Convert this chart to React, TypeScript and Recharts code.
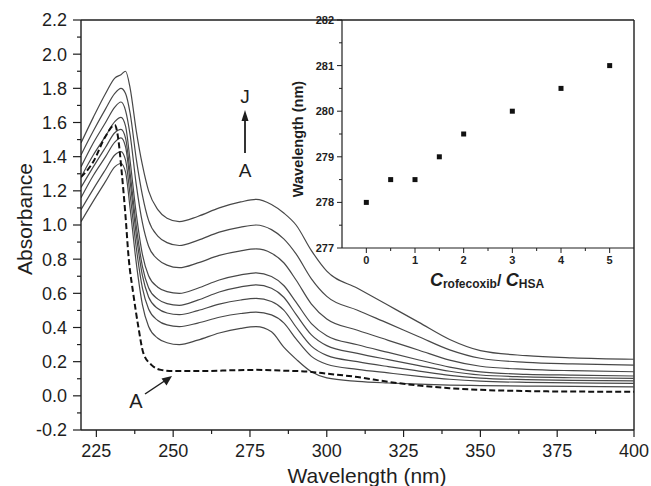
import React from 'react';
import {
  LineChart,
  Line,
  XAxis,
  YAxis,
  ReferenceLine,
  ScatterChart,
  Scatter,
} from 'recharts';

const W = 651;
const H = 486;
const FONT = '"Liberation Sans", Arial, Helvetica, sans-serif';
const INK = '#1e1e1e';
const CURVE = '#484848';

// wavelength grid of the HSA + rofecoxib spectra (nm)
const wavelengths = [
  220, 224, 228, 231, 233, 234.5, 236, 238, 240, 242, 245, 248, 252, 258, 265,
  272, 277, 282, 286, 290, 295, 300, 310, 320, 330, 340, 350, 365, 380, 400,
];

// absorbance, one array per C(rofecoxib)/C(HSA) ratio
const ratio0 = [
  1.02, 1.14, 1.255, 1.34, 1.36, 1.31, 1.095, 0.777, 0.533, 0.406, 0.337, 0.311, 0.3, 0.326, 0.368,
  0.395, 0.405, 0.375, 0.285, 0.215, 0.141, 0.105, 0.085, 0.075, 0.068, 0.063, 0.06, 0.057, 0.055, 0.053,
];
const ratio05 = [
  1.09, 1.21, 1.325, 1.41, 1.43, 1.38, 1.174, 0.866, 0.63, 0.508, 0.441, 0.415, 0.405, 0.426, 0.46,
  0.482, 0.49, 0.474, 0.427, 0.333, 0.231, 0.185, 0.155, 0.134, 0.114, 0.097, 0.086, 0.079, 0.076, 0.073,
];
const ratio1 = [
  1.16, 1.29, 1.4, 1.485, 1.51, 1.458, 1.251, 0.941, 0.703, 0.579, 0.511, 0.485, 0.475, 0.499, 0.537,
  0.561, 0.57, 0.552, 0.502, 0.403, 0.291, 0.237, 0.2, 0.171, 0.145, 0.12, 0.104, 0.095, 0.091, 0.088,
];
const ratio15 = [
  1.22, 1.34, 1.455, 1.54, 1.56, 1.509, 1.303, 0.994, 0.757, 0.633, 0.566, 0.54, 0.53, 0.56, 0.608,
  0.638, 0.65, 0.63, 0.577, 0.477, 0.357, 0.294, 0.249, 0.212, 0.177, 0.144, 0.122, 0.111, 0.106, 0.102,
];
const ratio2 = [
  1.28, 1.41, 1.52, 1.605, 1.63, 1.579, 1.373, 1.064, 0.827, 0.703, 0.636, 0.61, 0.6, 0.63, 0.678,
  0.708, 0.72, 0.699, 0.646, 0.548, 0.423, 0.352, 0.299, 0.254, 0.21, 0.168, 0.14, 0.126, 0.121, 0.116,
];
const ratio3 = [
  1.34, 1.48, 1.6, 1.69, 1.72, 1.67, 1.526, 1.235, 1.012, 0.876, 0.799, 0.765, 0.75, 0.778, 0.822,
  0.849, 0.86, 0.835, 0.779, 0.678, 0.537, 0.45, 0.384, 0.325, 0.267, 0.209, 0.173, 0.155, 0.147, 0.141,
];
const ratio4 = [
  1.41, 1.55, 1.68, 1.77, 1.8, 1.77, 1.653, 1.386, 1.174, 1.027, 0.935, 0.897, 0.88, 0.91, 0.958,
  0.988, 1.0, 0.973, 0.919, 0.831, 0.685, 0.582, 0.501, 0.424, 0.346, 0.269, 0.22, 0.196, 0.187, 0.18,
];
const ratio5 = [
  1.48, 1.63, 1.77, 1.86, 1.88, 1.9, 1.8, 1.55, 1.35, 1.2, 1.09, 1.04, 1.02, 1.05, 1.1,
  1.135, 1.15, 1.12, 1.07, 1.0, 0.85, 0.73, 0.63, 0.53, 0.43, 0.33, 0.265, 0.235, 0.222, 0.214,
];

// free rofecoxib (dashed curve A)
const freeWl = [
  220, 224, 228, 231, 232, 233.3, 234.5, 235.5, 237, 238.7, 240.3, 243, 246, 250, 260, 270, 277,
  285, 295, 300, 310, 320, 330, 340, 350, 365, 380, 400,
];
const freeAbs = [
  1.28, 1.37, 1.52, 1.585, 1.52, 1.3, 1.05, 0.81, 0.6, 0.4, 0.25, 0.18, 0.152, 0.145, 0.145, 0.15, 0.152,
  0.148, 0.14, 0.13, 0.11, 0.082, 0.06, 0.045, 0.035, 0.028, 0.025, 0.024,
];

// inset: peak position vs concentration ratio
const ratios = [0, 0.5, 1, 1.5, 2, 3, 4, 5];
const peakWl = [278, 278.5, 278.5, 279, 279.5, 280, 280.5, 281];

const xMajor = [225, 250, 275, 300, 325, 350, 375, 400];
const xMinor = [237.5, 262.5, 287.5, 312.5, 337.5, 362.5, 387.5];
const yMajor = [-0.2, 0, 0.2, 0.4, 0.6, 0.8, 1.0, 1.2, 1.4, 1.6, 1.8, 2.0, 2.2];
const yMinor = [-0.1, 0.1, 0.3, 0.5, 0.7, 0.9, 1.1, 1.3, 1.5, 1.7, 1.9, 2.1];
const insetXMajor = [0, 1, 2, 3, 4, 5];
const insetXMinor = [0.5, 1.5, 2.5, 3.5, 4.5];
const insetYMajor = [277, 278, 279, 280, 281, 282];
const insetYMinor = [277.5, 278.5, 279.5, 280.5, 281.5];

const series = [
  { key: 'r0', values: ratio0 },
  { key: 'r05', values: ratio05 },
  { key: 'r1', values: ratio1 },
  { key: 'r15', values: ratio15 },
  { key: 'r2', values: ratio2 },
  { key: 'r3', values: ratio3 },
  { key: 'r4', values: ratio4 },
  { key: 'r5', values: ratio5 },
];

const allWl = Array.from(new Set([...wavelengths, ...freeWl])).sort((a, b) => a - b);
const spectra = allWl.map((w) => {
  const row: Record<string, number | null> = { wl: w };
  const i = wavelengths.indexOf(w);
  series.forEach((s) => {
    row[s.key] = i >= 0 ? s.values[i] : null;
  });
  const j = freeWl.indexOf(w);
  row.free = j >= 0 ? freeAbs[j] : null;
  return row;
});

const insetData = ratios.map((r, i) => ({ ratio: r, peak: peakWl[i] }));

const MainXTick = (props: any) => {
  const { x, y, payload } = props;
  const major = xMajor.includes(payload.value);
  return (
    <g>
      <line x1={x} x2={x} y1={y} y2={y + (major ? 7 : 4)} stroke={INK} strokeWidth={1.2} />
      {major && (
        <text x={x} y={y + 27} textAnchor="middle" fontSize={18} fill={INK} fontFamily={FONT}>
          {payload.value}
        </text>
      )}
    </g>
  );
};

const MainYTick = (props: any) => {
  const { x, y, payload } = props;
  const major = yMajor.includes(payload.value);
  return (
    <g>
      <line x1={x - (major ? 8 : 4)} x2={x} y1={y} y2={y} stroke={INK} strokeWidth={1.2} />
      {major && (
        <text x={x - 14} y={y} dy="0.36em" textAnchor="end" fontSize={18} fill={INK} fontFamily={FONT}>
          {payload.value.toFixed(1)}
        </text>
      )}
    </g>
  );
};

const InsetXTick = (props: any) => {
  const { x, y, payload } = props;
  const major = insetXMajor.includes(payload.value);
  return (
    <g>
      <line x1={x} x2={x} y1={y} y2={y + (major ? 5 : 3)} stroke={INK} strokeWidth={1} />
      {major && (
        <text x={x} y={y + 16} textAnchor="middle" fontSize={11} fontWeight="bold" fill={INK} fontFamily={FONT}>
          {payload.value}
        </text>
      )}
    </g>
  );
};

const InsetYTick = (props: any) => {
  const { x, y, payload } = props;
  const major = insetYMajor.includes(payload.value);
  return (
    <g>
      <line x1={x - (major ? 5 : 3)} x2={x} y1={y} y2={y} stroke={INK} strokeWidth={1} />
      {major && (
        <text x={x - 8} y={y} dy="0.36em" textAnchor="end" fontSize={11} fontWeight="bold" fill={INK} fontFamily={FONT}>
          {payload.value}
        </text>
      )}
    </g>
  );
};

const SquareDot = (props: any) => {
  const { cx, cy } = props;
  return <rect x={cx - 2.5} y={cy - 2.5} width={5} height={5} fill="#111" />;
};

const layer: React.CSSProperties = { position: 'absolute', left: 0, top: 0, width: W, height: H };

const App: React.FC = () => {
  return (
    <div style={{ position: 'absolute', left: 0, top: 0, width: W, height: H, background: '#fff' }}>
      <div style={layer}>
        <LineChart width={W} height={H} data={spectra} margin={{ top: 20, right: 17, left: 80, bottom: 55 }}>
          <XAxis
            dataKey="wl"
            type="number"
            domain={[220, 400]}
            ticks={[...xMajor, ...xMinor]}
            interval={0}
            height={1}
            tickSize={0}
            tickMargin={0}
            tickLine={false}
            tick={(p: any) => <MainXTick {...p} />}
            axisLine={{ stroke: INK, strokeWidth: 1.4 }}
            allowDataOverflow
          />
          <YAxis
            type="number"
            domain={[-0.2, 2.2]}
            ticks={[...yMajor, ...yMinor]}
            interval={0}
            width={1}
            tickSize={0}
            tickMargin={0}
            tickLine={false}
            tick={(p: any) => <MainYTick {...p} />}
            axisLine={{ stroke: INK, strokeWidth: 1.4 }}
            allowDataOverflow
          />
          <ReferenceLine y={2.2} stroke={INK} strokeWidth={1.4} />
          <ReferenceLine x={400} stroke={INK} strokeWidth={1.4} />
          {series.map((s) => (
            <Line
              key={s.key}
              dataKey={s.key}
              type="monotone"
              stroke={CURVE}
              strokeWidth={1.2}
              dot={false}
              connectNulls
              isAnimationActive={false}
            />
          ))}
          <Line
            dataKey="free"
            type="monotone"
            stroke="#111"
            strokeWidth={2}
            strokeDasharray="6 3"
            dot={false}
            connectNulls
            isAnimationActive={false}
          />
        </LineChart>
      </div>

      <div style={layer}>
        <ScatterChart width={W} height={H} margin={{ top: 20, right: 17, left: 341, bottom: 237 }}>
          <XAxis
            dataKey="ratio"
            type="number"
            domain={[-0.5, 5.5]}
            ticks={[...insetXMajor, ...insetXMinor]}
            interval={0}
            height={1}
            tickSize={0}
            tickMargin={0}
            tickLine={false}
            tick={(p: any) => <InsetXTick {...p} />}
            axisLine={{ stroke: INK, strokeWidth: 1.2 }}
          />
          <YAxis
            dataKey="peak"
            type="number"
            domain={[277, 282]}
            ticks={[...insetYMajor, ...insetYMinor]}
            interval={0}
            width={1}
            tickSize={0}
            tickMargin={0}
            tickLine={false}
            tick={(p: any) => <InsetYTick {...p} />}
            axisLine={{ stroke: INK, strokeWidth: 1.2 }}
          />
          <Scatter data={insetData} shape={(p: any) => <SquareDot {...p} />} isAnimationActive={false} />
        </ScatterChart>
      </div>

      <svg style={{ ...layer, pointerEvents: 'none' }} width={W} height={H}>
        <text x={367} y={483} textAnchor="middle" fontSize={21} fill={INK} fontFamily={FONT}>
          Wavelength (nm)
        </text>
        <text
          x={24}
          y={219}
          transform="rotate(-90 24 219)"
          textAnchor="middle"
          dy="0.36em"
          fontSize={21}
          fill={INK}
          fontFamily={FONT}
        >
          Absorbance
        </text>
        <text
          x={298}
          y={139}
          transform="rotate(-90 298 139)"
          textAnchor="middle"
          dy="0.36em"
          fontSize={14.5}
          fontWeight="bold"
          fill={INK}
          fontFamily={FONT}
        >
          Wavelength (nm)
        </text>
        <text x={487} y={286} textAnchor="middle" fill={INK} fontFamily={FONT} fontWeight="bold">
          <tspan fontSize={18} fontStyle="italic">C</tspan>
          <tspan fontSize={12} dy={2}>rofecoxib</tspan>
          <tspan fontSize={16} dy={-2}>/ </tspan>
          <tspan fontSize={18} fontStyle="italic">C</tspan>
          <tspan fontSize={12} dy={2}>HSA</tspan>
        </text>

        {/* A -> J arrow */}
        <text x={245} y={103} textAnchor="middle" fontSize={19} fill={INK} fontFamily={FONT}>J</text>
        <line x1={245} y1={153} x2={245} y2={118} stroke={INK} strokeWidth={1.8} />
        <polygon points="245,110 241.5,121 248.5,121" fill={INK} />
        <text x={245} y={177} textAnchor="middle" fontSize={19} fill={INK} fontFamily={FONT}>A</text>

        {/* label for free rofecoxib */}
        <text x={136} y={408} textAnchor="middle" fontSize={20} fill={INK} fontFamily={FONT}>A</text>
        <line x1={145} y1={394} x2={166} y2={380} stroke={INK} strokeWidth={1.5} />
        <polygon points="172,376 161.5,378.5 166.5,385.5" fill={INK} />
      </svg>
    </div>
  );
};

export default App;
